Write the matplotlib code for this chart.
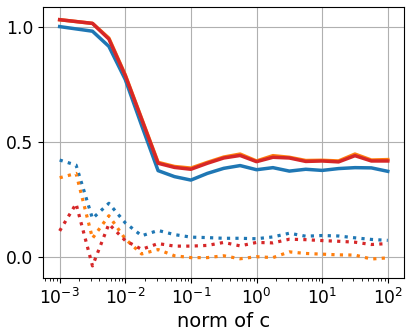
import matplotlib
matplotlib.use("Agg")
import matplotlib.pyplot as plt

# x values (norm of c), 4 points per decade
norm_c = [1e-3, 1.778e-3, 3.162e-3, 5.623e-3,
          1e-2, 1.778e-2, 3.162e-2, 5.623e-2,
          1e-1, 1.778e-1, 3.162e-1, 5.623e-1,
          1e0, 1.778e0, 3.162e0, 5.623e0,
          1e1, 1.778e1, 3.162e1, 5.623e1,
          1e2]

blue_solid = [1.0, 0.99, 0.98, 0.914, 0.77, 0.57, 0.374, 0.348, 0.333, 0.362, 0.384,
              0.396, 0.378, 0.387, 0.372, 0.38, 0.375, 0.383, 0.387, 0.386, 0.371]
orange_solid = [1.03, 1.022, 1.014, 0.95, 0.79, 0.6, 0.41, 0.392, 0.385, 0.41, 0.433,
                0.446, 0.416, 0.439, 0.432, 0.418, 0.419, 0.416, 0.446, 0.42, 0.422]
red_solid = [1.03, 1.022, 1.014, 0.946, 0.787, 0.597, 0.406, 0.388, 0.38, 0.406, 0.429,
             0.44, 0.413, 0.432, 0.429, 0.414, 0.416, 0.412, 0.439, 0.416, 0.416]

blue_dot = [0.42, 0.398, 0.166, 0.232, 0.147, 0.091, 0.114, 0.096, 0.085, 0.083, 0.08,
            0.08, 0.078, 0.086, 0.102, 0.089, 0.092, 0.09, 0.082, 0.075, 0.071]
orange_dot = [0.343, 0.362, 0.08, 0.178, 0.077, 0.012, 0.031, 0.004, -0.004, -0.004, 0.004,
              -0.009, 0.0, -0.004, 0.021, 0.014, 0.011, 0.008, 0.007, -0.01, -0.005]
red_dot = [0.112, 0.23, -0.04, 0.142, 0.07, 0.032, 0.057, 0.046, 0.046, 0.049, 0.062,
           0.047, 0.062, 0.06, 0.076, 0.074, 0.07, 0.067, 0.063, 0.053, 0.057]


def main():
    fig, ax = plt.subplots(figsize=(4.12, 3.36), dpi=100)
    fig.subplots_adjust(left=0.105, right=0.981, top=0.978, bottom=0.172)

    ax.plot(norm_c, blue_solid, color="tab:blue", lw=2.5)
    ax.plot(norm_c, orange_solid, color="tab:orange", lw=2.5)
    ax.plot(norm_c, red_solid, color="tab:red", lw=2.5)
    ax.plot(norm_c, blue_dot, color="tab:blue", lw=2.3, ls=":")
    ax.plot(norm_c, orange_dot, color="tab:orange", lw=2.3, ls=":")
    ax.plot(norm_c, red_dot, color="tab:red", lw=2.3, ls=":")

    ax.set_xscale("log")
    ax.set_yticks([0.0, 0.5, 1.0])
    ax.grid(True)
    ax.tick_params(labelsize=12.3)
    ax.set_xlabel("norm of c", fontsize=14, labelpad=2.5)

    fig.savefig("out.png", dpi=100)
    plt.close(fig)


if __name__ == "__main__":
    main()
